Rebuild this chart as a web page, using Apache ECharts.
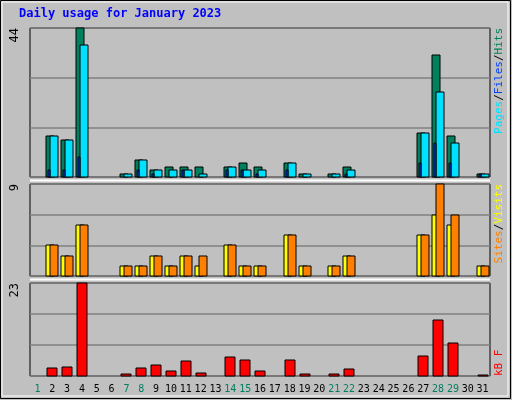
<!DOCTYPE html>
<html>
<head>
<meta charset="utf-8">
<script src="https://cdn.jsdelivr.net/npm/echarts@6/dist/echarts.min.js"></script>
<style>html,body{margin:0;padding:0;background:#c0c0c0}#main{width:512px;height:400px}</style>
</head>
<body>
<div id="main"></div>
<script>
let days = [];
for (let d = 1; d <= 31; d++) days.push(String(d));
let weekend = [1, 7, 8, 14, 15, 21, 22, 28, 29];
// hits / files / pages per day
let hits  = [0,12,11,44,0,0,1,5,2,3,3,3,0,3,4,3,0,4,1,0,1,3,0,0,0,0,13,36,12,0,1];
let files = [0,12,11,39,0,0,1,5,2,2,2,1,0,3,2,2,0,4,1,0,1,2,0,0,0,0,13,25,10,0,1];
let pages = [0,2,2,6,0,0,0,2,1,0,2,0,0,2,2,1,0,2,0,0,0,1,0,0,0,0,4,10,4,0,1];
let visits = [0,3,2,5,0,0,1,1,2,1,2,1,0,3,1,1,0,4,1,0,1,2,0,0,0,0,4,6,5,0,1];
let sites  = [0,3,2,5,0,0,1,1,2,1,2,2,0,3,1,1,0,4,1,0,1,2,0,0,0,0,4,9,6,0,1];
let kbytes = [0,2.1,2.3,23,0,0,0.6,1.9,2.6,1.35,3.6,0.85,0,4.6,3.9,1.35,0,3.9,0.5,0,0.5,1.85,0,0,0,0,4.9,13.9,8.2,0,0.25];
let maxTop = 44, maxMid = 9, maxBot = 23;

let chart = echarts.init(document.getElementById('main'));
let font = 'DejaVu Sans Mono';

function barSeries(data, grid, color, dx, w, z) {
  return {
    type: 'custom', xAxisIndex: grid, yAxisIndex: grid, z: z,
    data: data.map((v, i) => [i, v]),
    renderItem: function (params, api) {
      let v = api.value(1);
      if (!v) return null;
      let top = api.coord([api.value(0), v]);
      let base = api.coord([api.value(0), 0]);
      return {
        type: 'rect',
        shape: {x: Math.round(top[0] + dx), y: Math.round(top[1]), width: w, height: Math.max(1, Math.round(base[1] - top[1]))},
        style: {fill: color, stroke: '#000', lineWidth: 1}
      };
    }
  };
}

let grids = [
  {left: 30, top: 28, width: 460, height: 149},
  {left: 30, top: 184, width: 460, height: 92},
  {left: 30, top: 283, width: 460, height: 93}
];
let maxes = [maxTop, maxMid, maxBot];
let rot = Math.PI / 2;

let option = {
  backgroundColor: '#c0c0c0',
  animation: false,
  grid: grids.map(g => Object.assign({show: true, backgroundColor: '#c0c0c0', borderColor: '#000', borderWidth: 1}, g)),
  xAxis: grids.map((g, i) => ({
    type: 'category', gridIndex: i, data: days,
    axisLine: {show: false}, axisTick: {show: false},
    axisLabel: i < 2 ? {show: false} : {
      margin: 8, interval: 0, hideOverlap: false, fontFamily: font, fontSize: 10,
      formatter: function (v) { return weekend.indexOf(+v) >= 0 ? '{w|' + v + '}' : '{n|' + v + '}'; },
      rich: {w: {color: '#008060', fontFamily: font, fontSize: 10}, n: {color: '#000', fontFamily: font, fontSize: 10}}
    }
  })),
  yAxis: maxes.map((m, i) => ({
    type: 'value', gridIndex: i, min: 0, max: m, interval: m / 3,
    axisLabel: {show: false}, axisLine: {show: false}, axisTick: {show: false},
    splitLine: {lineStyle: {color: '#808080', width: 1.5}}
  })),
  series: [
    barSeries(hits, 0, '#00805c', -6, 8, 2),
    barSeries(files, 0, '#00e0ff', -2, 8, 3),
    barSeries(pages, 0, '#0040ff', -4, 2, 4),
    barSeries(visits, 1, '#ffff00', -6, 8, 2),
    barSeries(sites, 1, '#ff8000', -2, 8, 3),
    barSeries(kbytes, 2, '#ff0000', -5, 10, 2)
  ],
  graphic: [
    {type: 'rect', shape: {x: 0.5, y: 0.5, width: 510, height: 398}, style: {fill: 'none', stroke: '#000', lineWidth: 1}},
    {type: 'rect', shape: {x: 2, y: 2, width: 506, height: 394}, style: {fill: 'none', stroke: '#fff', lineWidth: 1}},
    {type: 'text', left: 19, top: 8, style: {text: 'Daily usage for January 2023', fill: '#0000ff', font: 'bold 12px ' + font}},
    {type: 'text', x: 9, y: 28, rotation: rot, style: {text: '44', fill: '#000', font: '12px ' + font, align: 'right', verticalAlign: 'top'}},
    {type: 'text', x: 9, y: 184, rotation: rot, style: {text: '9', fill: '#000', font: '12px ' + font, align: 'right', verticalAlign: 'top'}},
    {type: 'text', x: 9, y: 283, rotation: rot, style: {text: '23', fill: '#000', font: '12px ' + font, align: 'right', verticalAlign: 'top'}},
    {type: 'text', x: 494, y: 28, rotation: rot, style: {
      text: '{p|Pages}{s|/}{f|Files}{s|/}{h|Hits}', align: 'right', verticalAlign: 'top',
      rich: {p: {fill: '#00e0ff', font: '11px ' + font}, f: {fill: '#0040ff', font: '11px ' + font}, h: {fill: '#00805c', font: '11px ' + font}, s: {fill: '#000', font: '11px ' + font}}}},
    {type: 'text', x: 494, y: 184, rotation: rot, style: {
      text: '{a|Sites}{s|/}{b|Visits}', align: 'right', verticalAlign: 'top',
      rich: {a: {fill: '#ff8000', font: '11px ' + font}, b: {fill: '#ffff00', font: '11px ' + font}, s: {fill: '#000', font: '11px ' + font}}}},
    {type: 'text', x: 494, y: 376, rotation: rot, style: {text: 'kB F', fill: '#ff0000', font: '11px ' + font, align: 'left', verticalAlign: 'top'}},
    {type: 'line', shape: {x1: 30, y1: 180.5, x2: 490, y2: 180.5}, style: {stroke: '#fff', lineWidth: 2}},
    {type: 'line', shape: {x1: 30, y1: 279.5, x2: 490, y2: 279.5}, style: {stroke: '#fff', lineWidth: 2}}
  ]
};
chart.setOption(option);
</script>
</body>
</html>
